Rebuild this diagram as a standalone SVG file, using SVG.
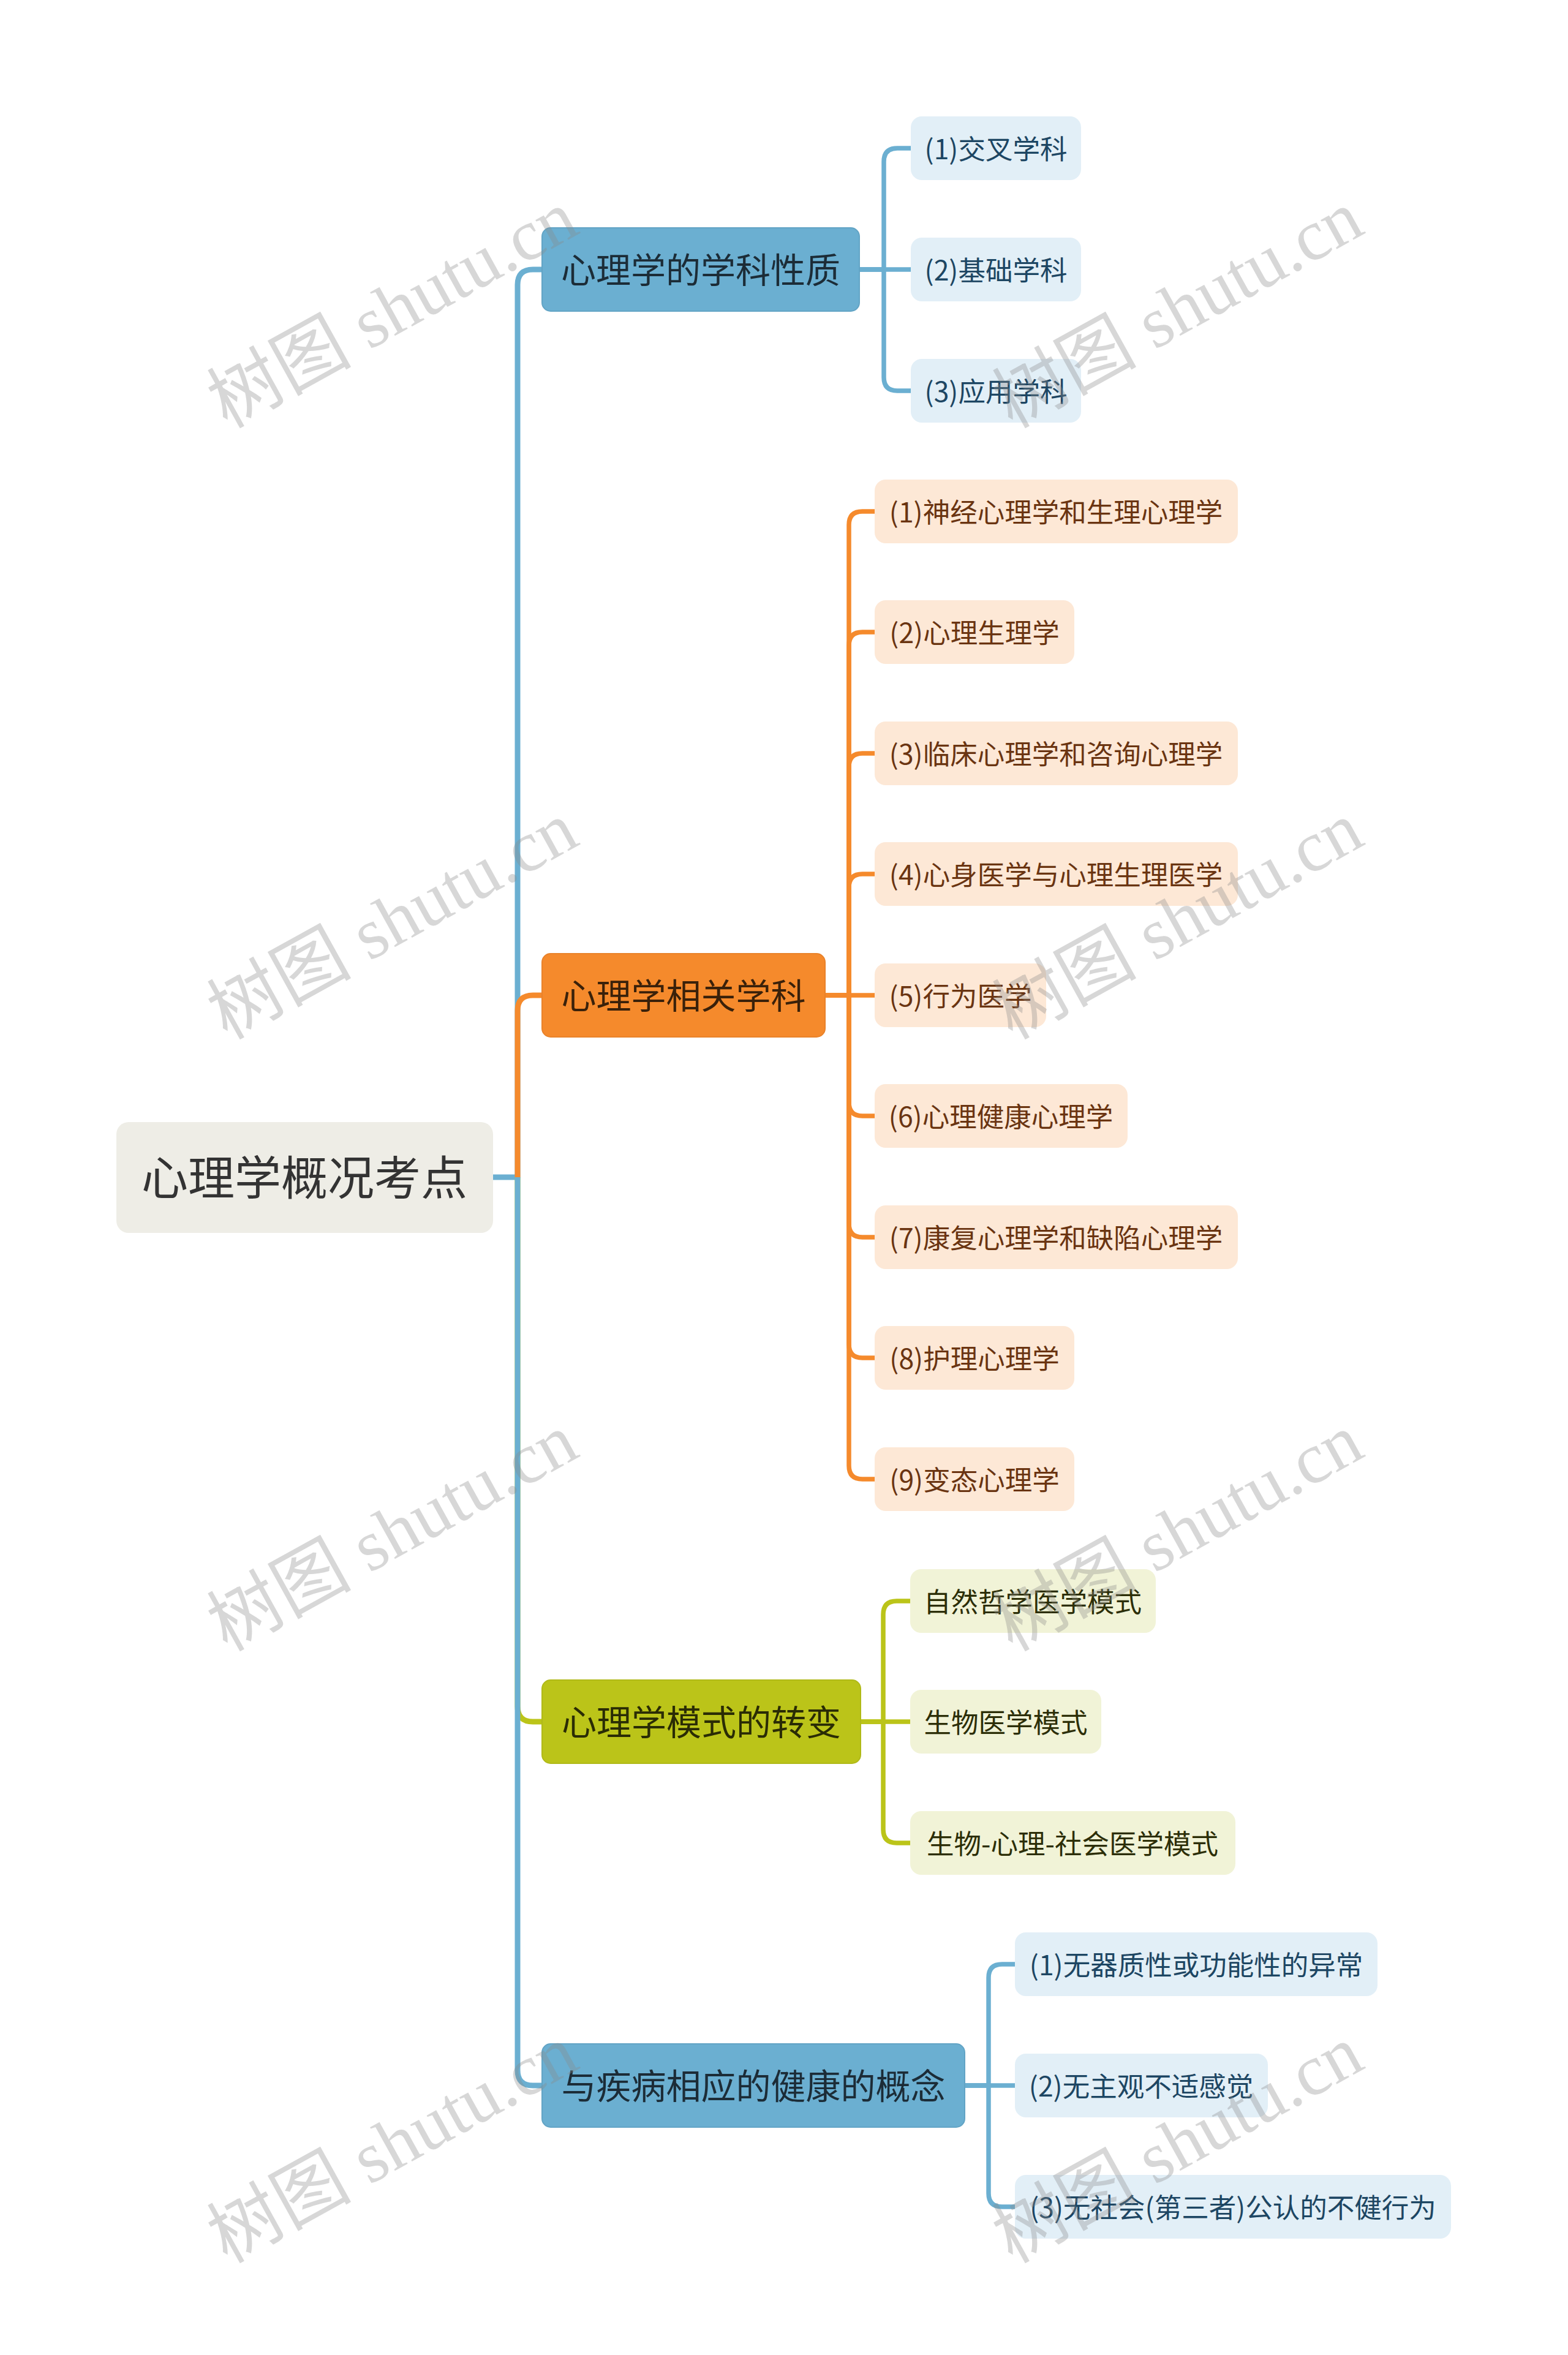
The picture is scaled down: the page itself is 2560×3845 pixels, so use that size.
<svg xmlns="http://www.w3.org/2000/svg" width="2560" height="3845" viewBox="0 0 2560 3845">
<style>
text{font-family:"Noto Sans CJK SC","Noto Sans",sans-serif;text-anchor:middle;dominant-baseline:central}
.root rect{fill:#EEEDE6}
.root text{font-size:76px;fill:#333333}
.l1 text{font-size:57px}
.l2 text{font-size:44.5px}
.b1 rect{fill:#6BAFD1;stroke:#62A4C5;stroke-width:2}
.b1 text{fill:#1C2C37}
.o1 rect{fill:#F58A2C;stroke:#E9822A;stroke-width:2}
.o1 text{fill:#3A210A}
.y1 rect{fill:#BBC419;stroke:#B0B918;stroke-width:2}
.y1 text{fill:#2A2C05}
.b2 rect{fill:#E2EFF7}
.b2 text{fill:#1D4663}
.o2 rect{fill:#FDE8D6}
.o2 text{fill:#6A3411}
.y2 rect{fill:#F1F3D7}
.y2 text{fill:#2C2E07}
.c{fill:none;stroke-linejoin:round}
.t{stroke-width:9}
.s{stroke-width:7.5}
.cb{stroke:#6BAFD1}
.co{stroke:#F58A2C}
.cy{stroke:#BBC419}
.wm text{font-family:"Liberation Serif","Noto Sans CJK SC",serif;font-size:118px;fill:#8A8A8A;fill-opacity:0.34;dominant-baseline:alphabetic}
</style>

<g id="connectors">
  <path class="c t cb" d="M805,1922 H845 V465 Q845,440 870,440 H885"/>
  <path class="c t co" d="M845,1922 V1650 Q845,1625 870,1625 H885"/>
  <path class="c t cy" d="M845,1922 V2786 Q845,2811 870,2811 H885"/>
  <path class="c t cb" d="M845,1922 V3380 Q845,3405 870,3405 H885"/>

  <path class="c s cb" d="M1403,440 H1443 V264 Q1443,242 1465,242 H1487"/>
  <path class="c s cb" d="M1403,440 H1487"/>
  <path class="c s cb" d="M1403,440 H1443 V616 Q1443,638 1465,638 H1487"/>

  <path class="c s co" d="M1347,1625 H1386 V857 Q1386,835 1408,835 H1428"/>
  <path class="c s co" d="M1347,1625 H1386 V1054 Q1386,1032 1408,1032 H1428"/>
  <path class="c s co" d="M1347,1625 H1386 V1252 Q1386,1230 1408,1230 H1428"/>
  <path class="c s co" d="M1347,1625 H1386 V1449 Q1386,1427 1408,1427 H1428"/>
  <path class="c s co" d="M1347,1625 H1428"/>
  <path class="c s co" d="M1347,1625 H1386 V1800 Q1386,1822 1408,1822 H1428"/>
  <path class="c s co" d="M1347,1625 H1386 V1998 Q1386,2020 1408,2020 H1428"/>
  <path class="c s co" d="M1347,1625 H1386 V2195 Q1386,2217 1408,2217 H1428"/>
  <path class="c s co" d="M1347,1625 H1386 V2393 Q1386,2415 1408,2415 H1428"/>

  <path class="c s cy" d="M1405,2811 H1442 V2636 Q1442,2614 1464,2614 H1486"/>
  <path class="c s cy" d="M1405,2811 H1486"/>
  <path class="c s cy" d="M1405,2811 H1442 V2987 Q1442,3009 1464,3009 H1486"/>

  <path class="c s cb" d="M1575,3405 H1614 V3229 Q1614,3207 1636,3207 H1657"/>
  <path class="c s cb" d="M1575,3405 H1657"/>
  <path class="c s cb" d="M1575,3405 H1614 V3581 Q1614,3603 1636,3603 H1657"/>
</g>

<g id="root" class="root">
  <rect x="190" y="1832" width="615" height="181" rx="20"/>
  <text x="497" y="1918">心理学概况考点</text>
</g>

<g id="n1" class="l1 b1">
  <rect x="885" y="372" width="518" height="136" rx="14"/>
  <text x="1144" y="437">心理学的学科性质</text>
</g>
<g id="n2" class="l1 o1">
  <rect x="885" y="1557" width="462" height="136" rx="14"/>
  <text x="1116" y="1622">心理学相关学科</text>
</g>
<g id="n3" class="l1 y1">
  <rect x="885" y="2743" width="520" height="136" rx="14"/>
  <text x="1145" y="2808">心理学模式的转变</text>
</g>
<g id="n4" class="l1 b1">
  <rect x="885" y="3337" width="690" height="136" rx="14"/>
  <text x="1230" y="3402">与疾病相应的健康的概念</text>
</g>

<g id="n1-1" class="l2 b2"><rect x="1487" y="190" width="278" height="104" rx="18"/><text x="1626" y="240">(1)交叉学科</text></g>
<g id="n1-2" class="l2 b2"><rect x="1487" y="388" width="278" height="104" rx="18"/><text x="1626" y="438">(2)基础学科</text></g>
<g id="n1-3" class="l2 b2"><rect x="1487" y="586" width="278" height="104" rx="18"/><text x="1626" y="636">(3)应用学科</text></g>

<g id="n2-1" class="l2 o2"><rect x="1428" y="783" width="593" height="104" rx="18"/><text x="1724" y="833">(1)神经心理学和生理心理学</text></g>
<g id="n2-2" class="l2 o2"><rect x="1428" y="980" width="326" height="104" rx="18"/><text x="1591" y="1030">(2)心理生理学</text></g>
<g id="n2-3" class="l2 o2"><rect x="1428" y="1178" width="593" height="104" rx="18"/><text x="1724" y="1228">(3)临床心理学和咨询心理学</text></g>
<g id="n2-4" class="l2 o2"><rect x="1428" y="1375" width="593" height="104" rx="18"/><text x="1724" y="1425">(4)心身医学与心理生理医学</text></g>
<g id="n2-5" class="l2 o2"><rect x="1428" y="1573" width="280" height="104" rx="18"/><text x="1568" y="1623">(5)行为医学</text></g>
<g id="n2-6" class="l2 o2"><rect x="1428" y="1770" width="413" height="104" rx="18"/><text x="1634" y="1820">(6)心理健康心理学</text></g>
<g id="n2-7" class="l2 o2"><rect x="1428" y="1968" width="593" height="104" rx="18"/><text x="1724" y="2018">(7)康复心理学和缺陷心理学</text></g>
<g id="n2-8" class="l2 o2"><rect x="1428" y="2165" width="326" height="104" rx="18"/><text x="1591" y="2215">(8)护理心理学</text></g>
<g id="n2-9" class="l2 o2"><rect x="1428" y="2363" width="326" height="104" rx="18"/><text x="1591" y="2413">(9)变态心理学</text></g>

<g id="n3-1" class="l2 y2"><rect x="1486" y="2562" width="401" height="104" rx="18"/><text x="1686" y="2612">自然哲学医学模式</text></g>
<g id="n3-2" class="l2 y2"><rect x="1486" y="2759" width="312" height="104" rx="18"/><text x="1642" y="2809">生物医学模式</text></g>
<g id="n3-3" class="l2 y2"><rect x="1486" y="2957" width="531" height="104" rx="18"/><text x="1751" y="3007">生物-心理-社会医学模式</text></g>

<g id="n4-1" class="l2 b2"><rect x="1657" y="3155" width="592" height="104" rx="18"/><text x="1953" y="3205">(1)无器质性或功能性的异常</text></g>
<g id="n4-2" class="l2 b2"><rect x="1657" y="3353" width="413" height="104" rx="18"/><text x="1863" y="3403">(2)无主观不适感觉</text></g>
<g id="n4-3" class="l2 b2"><rect x="1657" y="3551" width="712" height="104" rx="18"/><text x="2013" y="3601">(3)无社会(第三者)公认的不健行为</text></g>

<g class="wm">
  <text transform="translate(660,540) rotate(-29)">树图 shutu.cn</text>
  <text transform="translate(1942,540) rotate(-29)">树图 shutu.cn</text>
  <text transform="translate(660,1538) rotate(-29)">树图 shutu.cn</text>
  <text transform="translate(1942,1538) rotate(-29)">树图 shutu.cn</text>
  <text transform="translate(660,2537) rotate(-29)">树图 shutu.cn</text>
  <text transform="translate(1942,2537) rotate(-29)">树图 shutu.cn</text>
  <text transform="translate(660,3536) rotate(-29)">树图 shutu.cn</text>
  <text transform="translate(1942,3536) rotate(-29)">树图 shutu.cn</text>
</g>
</svg>
